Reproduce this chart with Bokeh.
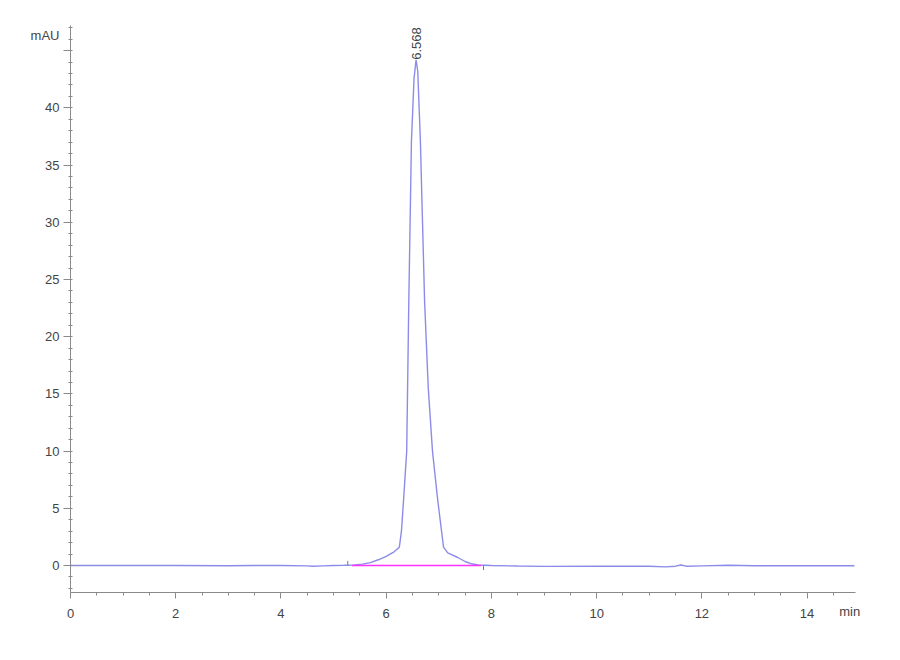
from bokeh.core.properties import value
from bokeh.embed import file_html
from bokeh.models import FixedTicker, LinearAxis, Range1d
from bokeh.plotting import figure
from bokeh.resources import INLINE

# chromatogram trace (min, mAU)
times = [0.0, 1.0, 2.0, 3.0, 3.5, 4.0, 4.5, 4.6, 4.8, 5.0, 5.2, 5.4,
         5.55, 5.7, 5.85, 6.0, 6.15, 6.25, 6.29, 6.33, 6.39, 6.43, 6.48,
         6.53, 6.568, 6.60, 6.65, 6.73, 6.80, 6.88, 6.98, 7.09, 7.17,
         7.36, 7.5, 7.62, 7.75, 8.0, 8.5, 9.0, 10.0, 11.0, 11.3, 11.5,
         11.6, 11.7, 12.0, 12.5, 13.0, 14.0, 14.9]
signal = [0.0, 0.0, 0.0, -0.02, 0.0, 0.0, -0.03, -0.06, -0.03, 0.0, 0.02, 0.05,
          0.12, 0.25, 0.5, 0.8, 1.2, 1.6, 3.0, 5.7, 10.0, 23.1, 37.1,
          42.6, 44.2, 43.2, 37.1, 23.1, 15.5, 10.0, 5.7, 1.6, 1.1,
          0.7, 0.35, 0.15, 0.04, 0.0, -0.05, -0.08, -0.07, -0.07, -0.12, -0.06,
          0.04, -0.06, -0.03, 0.02, -0.02, -0.02, -0.02]

peak_time = 6.568
peak_height = 44.2
peak_label = "6.568"
baseline_start = 5.35
baseline_end = 7.80
mark_start = 5.27
mark_end = 7.85

x_major = [0, 2, 4, 6, 8, 10, 12, 14]
x_minor = [i * 0.5 for i in range(0, 30)]
y_major = [0, 5, 10, 15, 20, 25, 30, 35, 40, 45]
y_minor = list(range(-2, 48))

# unit captions sit at these axis positions
y_unit_pos = 46.3
x_unit_pos = 14.81

FONT = "Liberation Sans"
TEXT_COLOR = "#444444"
AXIS_COLOR = "#8a8a8a"

p = figure(width=890, height=650,
           output_backend="svg", toolbar_location=None,
           x_range=Range1d(0, 14.92), y_range=Range1d(-2.36, 47.2),
           min_border_left=70, min_border_right=35,
           min_border_top=25, min_border_bottom=58)
p.outline_line_color = None
p.grid.grid_line_color = None

p.line(times, signal, line_color="#7f7fe6", line_width=1.4, line_alpha=0.9)
p.line([baseline_start, baseline_end], [0, 0],
       line_color="#ff33ff", line_width=1.3)
p.segment([mark_start, mark_end], [0, 0], [mark_start, mark_end], [0.4, -0.4],
          line_color="#777777", line_width=1)

p.text([peak_time], [peak_height], text=[peak_label], angle=1.5708,
       text_align="left", text_baseline="middle",
       text_font=value(FONT), text_font_size="13px", text_color=TEXT_COLOR)

p.xaxis.ticker = FixedTicker(ticks=x_major, minor_ticks=x_minor)
p.yaxis.ticker = FixedTicker(ticks=y_major, minor_ticks=y_minor)
p.yaxis.major_label_overrides = {45: ""}

for ax in (p.xaxis, p.yaxis):
    ax.axis_line_color = AXIS_COLOR
    ax.major_tick_line_color = AXIS_COLOR
    ax.minor_tick_line_color = AXIS_COLOR
    ax.major_label_text_font = FONT
    ax.major_label_text_font_size = "13px"
    ax.major_label_text_color = TEXT_COLOR

p.xaxis.major_tick_out = 6
p.xaxis.major_tick_in = 0
p.xaxis.minor_tick_out = 3
p.xaxis.minor_tick_in = 0
p.xaxis.major_label_standoff = 10

p.yaxis.major_tick_out = 7
p.yaxis.major_tick_in = 1
p.yaxis.minor_tick_out = 2
p.yaxis.minor_tick_in = 2
p.yaxis.major_label_standoff = 4


# labels outside the frame get clipped, so the unit captions are
# bare axes (no line, no ticks) pulled back next to the real ones
def unit_axis(pos, caption, standoff):
    ax = LinearAxis(ticker=FixedTicker(ticks=[pos]),
                    major_label_overrides={pos: caption})
    ax.axis_line_color = None
    ax.major_tick_line_color = None
    ax.minor_tick_line_color = None
    ax.major_tick_out = 0
    ax.major_tick_in = 0
    ax.minor_tick_out = 0
    ax.minor_tick_in = 0
    ax.major_label_standoff = standoff
    ax.major_label_text_font = FONT
    ax.major_label_text_font_size = "13px"
    ax.major_label_text_color = TEXT_COLOR
    return ax


p.add_layout(unit_axis(y_unit_pos, "mAU", -17), "left")
p.add_layout(unit_axis(x_unit_pos, "min", -17), "below")

open("out.html", "w").write(file_html(p, INLINE))
